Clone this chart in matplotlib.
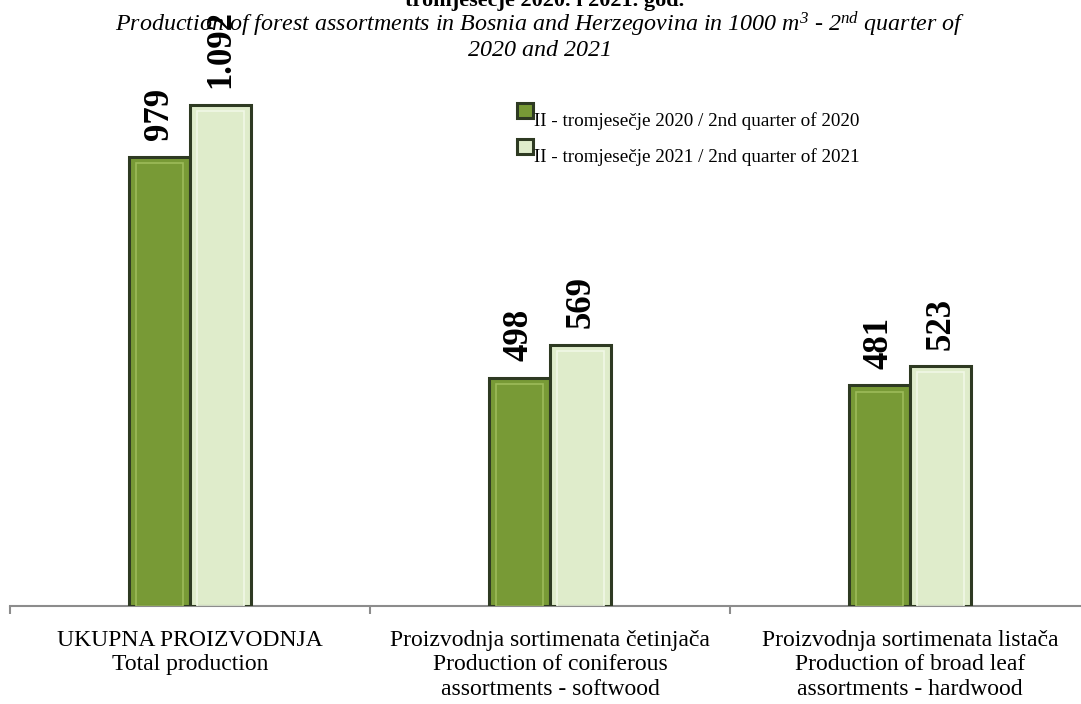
import matplotlib
matplotlib.use("Agg")
import matplotlib.pyplot as plt
import matplotlib.patches as mpatches
from matplotlib.legend_handler import HandlerPatch
from matplotlib.container import BarContainer
import numpy as np

categories = [
    "UKUPNA PROIZVODNJA\nTotal production",
    "Proizvodnja sortimenata četinjača\nProduction of coniferous\nassortments - softwood",
    "Proizvodnja sortimenata listača\nProduction of broad leaf\nassortments - hardwood",
]
series_names = [
    "II - tromjesečje 2020 / 2nd quarter of 2020",
    "II - tromjesečje 2021 / 2nd quarter of 2021",
]
values_2020 = [979, 498, 481]
values_2021 = [1092, 569, 523]

title_bold = "tromjesečje 2020. i 2021. god."
subtitle_1 = r"Production of forest assortments in Bosnia and Herzegovina in 1000 m$^{3}$ - 2$^{nd}$ quarter of"
subtitle_2 = "2020 and 2021"

plt.rcParams['mathtext.fontset'] = 'custom'
plt.rcParams['mathtext.rm'] = 'Liberation Serif:italic'
plt.rcParams['mathtext.it'] = 'Liberation Serif:italic'

fig = plt.figure(figsize=(10.81, 7.04), dpi=100)
ax = fig.add_axes([10/1081, 98/704, 1080/1081, 546/704])

x = np.arange(len(categories))
w = 0.17
off = 0.085
c_dark = "#789a36"
c_light = "#dfeccb"
edge = "#2e3a22"

b1 = ax.bar(x - off, values_2020, w, color=c_dark, edgecolor=edge, linewidth=2.2,
            label=series_names[0], zorder=3)
b2 = ax.bar(x + off, values_2021, w, color=c_light, edgecolor=edge, linewidth=2.2,
            label=series_names[1], zorder=3)

# subtle bevel highlight
for bars, hl in ((b1, "#9dbb5a"), (b2, "#f1f8e6")):
    for r in bars:
        ax.bar(r.get_x() + r.get_width()/2, r.get_height() - 14, r.get_width()*0.78,
               color="none", edgecolor=hl, linewidth=1.2, zorder=4)

def fmt(v):
    return f"{v:,}".replace(",", ".")

for bars in (b1, b2):
    for r in bars:
        ax.text(r.get_x() + r.get_width()/2, r.get_height() + 36, fmt(int(r.get_height())),
                rotation=90, ha='center', va='bottom', fontsize=25, fontweight='bold',
                family='Liberation Serif', clip_on=False)

ax.set_xlim(-0.5, 2.5)
ax.set_ylim(0, 1190)
ax.set_yticks([])
for s in ('top', 'right', 'left'):
    ax.spines[s].set_visible(False)
ax.spines['bottom'].set_color('#8c8c8c')
ax.spines['bottom'].set_linewidth(1.5)

ax.set_xticks(x)
ax.set_xticklabels(categories, fontsize=17, family='Liberation Serif', linespacing=1.22)
ax.tick_params(axis='x', which='major', length=0, pad=17)
ax.set_xticks([-0.5, 0.5, 1.5, 2.5], minor=True)
ax.tick_params(axis='x', which='minor', length=6, width=1.5, color='#8c8c8c', direction='out')


def raised_square(legend, orig_handle, xdescent, ydescent, width, height, fontsize):
    s = width
    return mpatches.Rectangle((-xdescent, -ydescent + height * 0.6), s, s)


def update_first(legend_handle, orig_handle):
    legend_handle.update_from(orig_handle.patches[0])


leg = ax.legend(loc='upper left', bbox_to_anchor=(490/1080, (606-95)/546), frameon=False,
                prop={'family': 'Liberation Serif', 'size': 13.8},
                handlelength=0.8, handleheight=0.8, handletextpad=0.1, labelspacing=0.95,
                handler_map={BarContainer: HandlerPatch(patch_func=raised_square,
                                                        update_func=update_first)})

fig.text(545/1081, 1 - 6/704, title_bold, ha='center', va='baseline', fontsize=16,
         fontweight='bold', family='Liberation Serif')
fig.text(540/1081, 1 - 24/704, subtitle_1, ha='center', va='center', fontsize=17.3,
         style='italic', family='Liberation Serif')
fig.text(540/1081, 1 - 50/704, subtitle_2, ha='center', va='center', fontsize=17.3,
         style='italic', family='Liberation Serif')

fig.savefig("out.png", dpi=100)
